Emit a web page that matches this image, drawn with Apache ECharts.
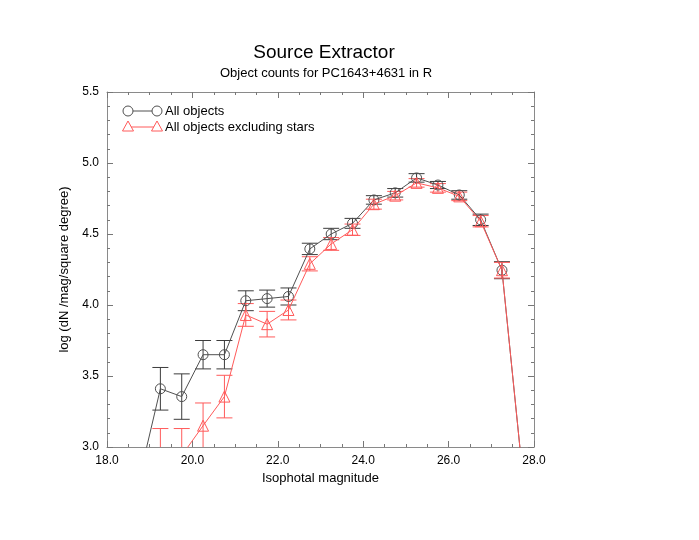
<!DOCTYPE html>
<html>
<head>
<meta charset="utf-8">
<script src="https://cdn.jsdelivr.net/npm/echarts@6/dist/echarts.min.js"></script>
<style>
  html, body { margin: 0; padding: 0; background: #fff; }
  #chart { width: 699px; height: 540px; }
</style>
</head>
<body>
<div id="chart"></div>
<script>
/* ---------------- data ---------------- */
const allMags = [18.75, 19.25, 19.75, 20.25, 20.75, 21.25, 21.75, 22.25, 22.75, 23.25,
                 23.75, 24.25, 24.75, 25.25, 25.75, 26.25, 26.75, 27.25, 27.75];
const allCounts = [2.77, 3.41, 3.355, 3.65, 3.65, 4.03, 4.045, 4.06, 4.395, 4.50,
                   4.575, 4.74, 4.79, 4.895, 4.845, 4.775, 4.60, 4.245, 2.76];
const allErrors = [0.2, 0.15, 0.16, 0.10, 0.10, 0.07, 0.06, 0.06, 0.04, 0.04,
                   0.035, 0.03, 0.03, 0.03, 0.025, 0.03, 0.04, 0.06, 0.2];

const galMags = [19.25, 19.75, 20.25, 20.75, 21.25, 21.75, 22.25, 22.75, 23.25,
                 23.75, 24.25, 24.75, 25.25, 25.75, 26.25, 26.75, 27.25, 27.75];
const galCounts = [2.90, 2.94, 3.15, 3.355, 3.93, 3.865, 3.965, 4.29, 4.43,
                   4.53, 4.71, 4.77, 4.86, 4.825, 4.765, 4.59, 4.245, 2.76];
const galErrors = [0.23, 0.19, 0.16, 0.15, 0.08, 0.09, 0.07, 0.05, 0.045,
                   0.04, 0.035, 0.03, 0.03, 0.03, 0.03, 0.04, 0.055, 0.2];

const xTicks = { min: 18, max: 28, step: 2 };
const yTicks = { min: 3.0, max: 5.5, step: 0.5 };

/* ---------------- style ---------------- */
const FONT = 'Liberation Sans';
const BLACK = '#505050';
const RED = '#ff5a5a';
const GRID = { left: 107, right: 165, top: 92, bottom: 93 };

function pairs(xs, ys) { return xs.map((x, i) => [x, ys[i]]); }
function errRows(xs, ys, es) { return xs.map((x, i) => [x, ys[i] - es[i], ys[i] + es[i]]); }

function errorBarSeries(rows, color) {
  return {
    type: 'custom',
    clip: true,
    silent: true,
    z: 1,
    data: rows,
    renderItem(params, api) {
      const lo = api.coord([api.value(0), api.value(1)]);
      const hi = api.coord([api.value(0), api.value(2)]);
      const w = 8;
      const st = { stroke: color, lineWidth: 1 };
      return {
        type: 'group',
        children: [
          { type: 'line', shape: { x1: lo[0], y1: lo[1], x2: hi[0], y2: hi[1] }, style: st },
          { type: 'line', shape: { x1: lo[0] - w, y1: lo[1], x2: lo[0] + w, y2: lo[1] }, style: st },
          { type: 'line', shape: { x1: hi[0] - w, y1: hi[1], x2: hi[0] + w, y2: hi[1] }, style: st }
        ]
      };
    }
  };
}

function axisCommon(showLabel, minorSplit) {
  return {
    axisLine: { show: true, onZero: false, lineStyle: { color: '#8a8a8a', width: 1 } },
    axisTick: { show: true, inside: true, length: 6, lineStyle: { color: '#777' } },
    minorTick: { show: true, splitNumber: minorSplit, length: 3, lineStyle: { color: '#777' } },
    splitLine: { show: false },
    axisLabel: {
      show: showLabel, color: '#000', fontFamily: FONT, fontSize: 12, margin: 8,
      formatter: v => v.toFixed(1)
    }
  };
}

/* ---------------- legend (drawn) ---------------- */
const legendGraphic = [
  { type: 'line', shape: { x1: 128, y1: 111, x2: 157, y2: 111 }, style: { stroke: BLACK, lineWidth: 1 } },
  { type: 'circle', shape: { cx: 128, cy: 111, r: 5 }, style: { fill: '#fff', stroke: BLACK, lineWidth: 1 } },
  { type: 'circle', shape: { cx: 157, cy: 111, r: 5 }, style: { fill: '#fff', stroke: BLACK, lineWidth: 1 } },
  { type: 'text', x: 165, y: 111, style: { text: 'All objects', fill: '#000', font: '13px ' + FONT, verticalAlign: 'middle' } },
  { type: 'line', shape: { x1: 128, y1: 127, x2: 157, y2: 127 }, style: { stroke: RED, lineWidth: 1 } },
  { type: 'polygon', shape: { points: [[128, 121], [122.5, 131], [133.5, 131]] }, style: { fill: '#fff', stroke: RED, lineWidth: 1 } },
  { type: 'polygon', shape: { points: [[157, 121], [151.5, 131], [162.5, 131]] }, style: { fill: '#fff', stroke: RED, lineWidth: 1 } },
  { type: 'text', x: 165, y: 127, style: { text: 'All objects excluding stars', fill: '#000', font: '13px ' + FONT, verticalAlign: 'middle' } }
];

/* ---------------- chart ---------------- */
const chart = echarts.init(document.getElementById('chart'), null, { renderer: 'canvas' });

chart.setOption({
  animation: false,
  backgroundColor: '#fff',
  title: [
    { text: 'Source Extractor', left: 319, top: 38, textAlign: 'center',
      textStyle: { fontFamily: FONT, fontSize: 19, fontWeight: 'normal', color: '#000' } },
    { text: 'Object counts for PC1643+4631 in R', left: 321, top: 62, textAlign: 'center',
      textStyle: { fontFamily: FONT, fontSize: 13, fontWeight: 'normal', color: '#000' } }
  ],
  grid: GRID,
  xAxis: [
    Object.assign(axisCommon(true, 4), {
      type: 'value', position: 'bottom', min: xTicks.min, max: xTicks.max, interval: xTicks.step,
      name: 'Isophotal magnitude', nameLocation: 'middle', nameGap: 22,
      nameTextStyle: { fontFamily: FONT, fontSize: 13, color: '#000' }
    }),
    Object.assign(axisCommon(false, 4), {
      type: 'value', position: 'top', min: xTicks.min, max: xTicks.max, interval: xTicks.step
    })
  ],
  yAxis: [
    Object.assign(axisCommon(true, 5), {
      type: 'value', position: 'left', min: yTicks.min, max: yTicks.max, interval: yTicks.step,
      name: 'log (dN /mag/square degree)', nameLocation: 'middle', nameGap: 33,
      nameTextStyle: { fontFamily: FONT, fontSize: 13, color: '#000' }
    }),
    Object.assign(axisCommon(false, 5), {
      type: 'value', position: 'right', min: yTicks.min, max: yTicks.max, interval: yTicks.step
    })
  ],
  graphic: legendGraphic,
  series: [
    errorBarSeries(errRows(allMags, allCounts, allErrors), '#3c3c3c'),
    {
      name: 'All objects', type: 'line', clip: true, z: 2,
      data: pairs(allMags, allCounts),
      symbol: 'circle', symbolSize: 10,
      lineStyle: { color: BLACK, width: 1 },
      itemStyle: { color: 'rgba(255,255,255,0)', borderColor: BLACK, borderWidth: 1 }
    },
    errorBarSeries(errRows(galMags, galCounts, galErrors), RED),
    {
      name: 'All objects excluding stars', type: 'line', clip: true, z: 3,
      data: pairs(galMags, galCounts),
      symbol: 'triangle', symbolSize: 11,
      lineStyle: { color: RED, width: 1 },
      itemStyle: { color: 'rgba(255,255,255,0)', borderColor: RED, borderWidth: 1 }
    }
  ]
});
</script>
</body>
</html>
